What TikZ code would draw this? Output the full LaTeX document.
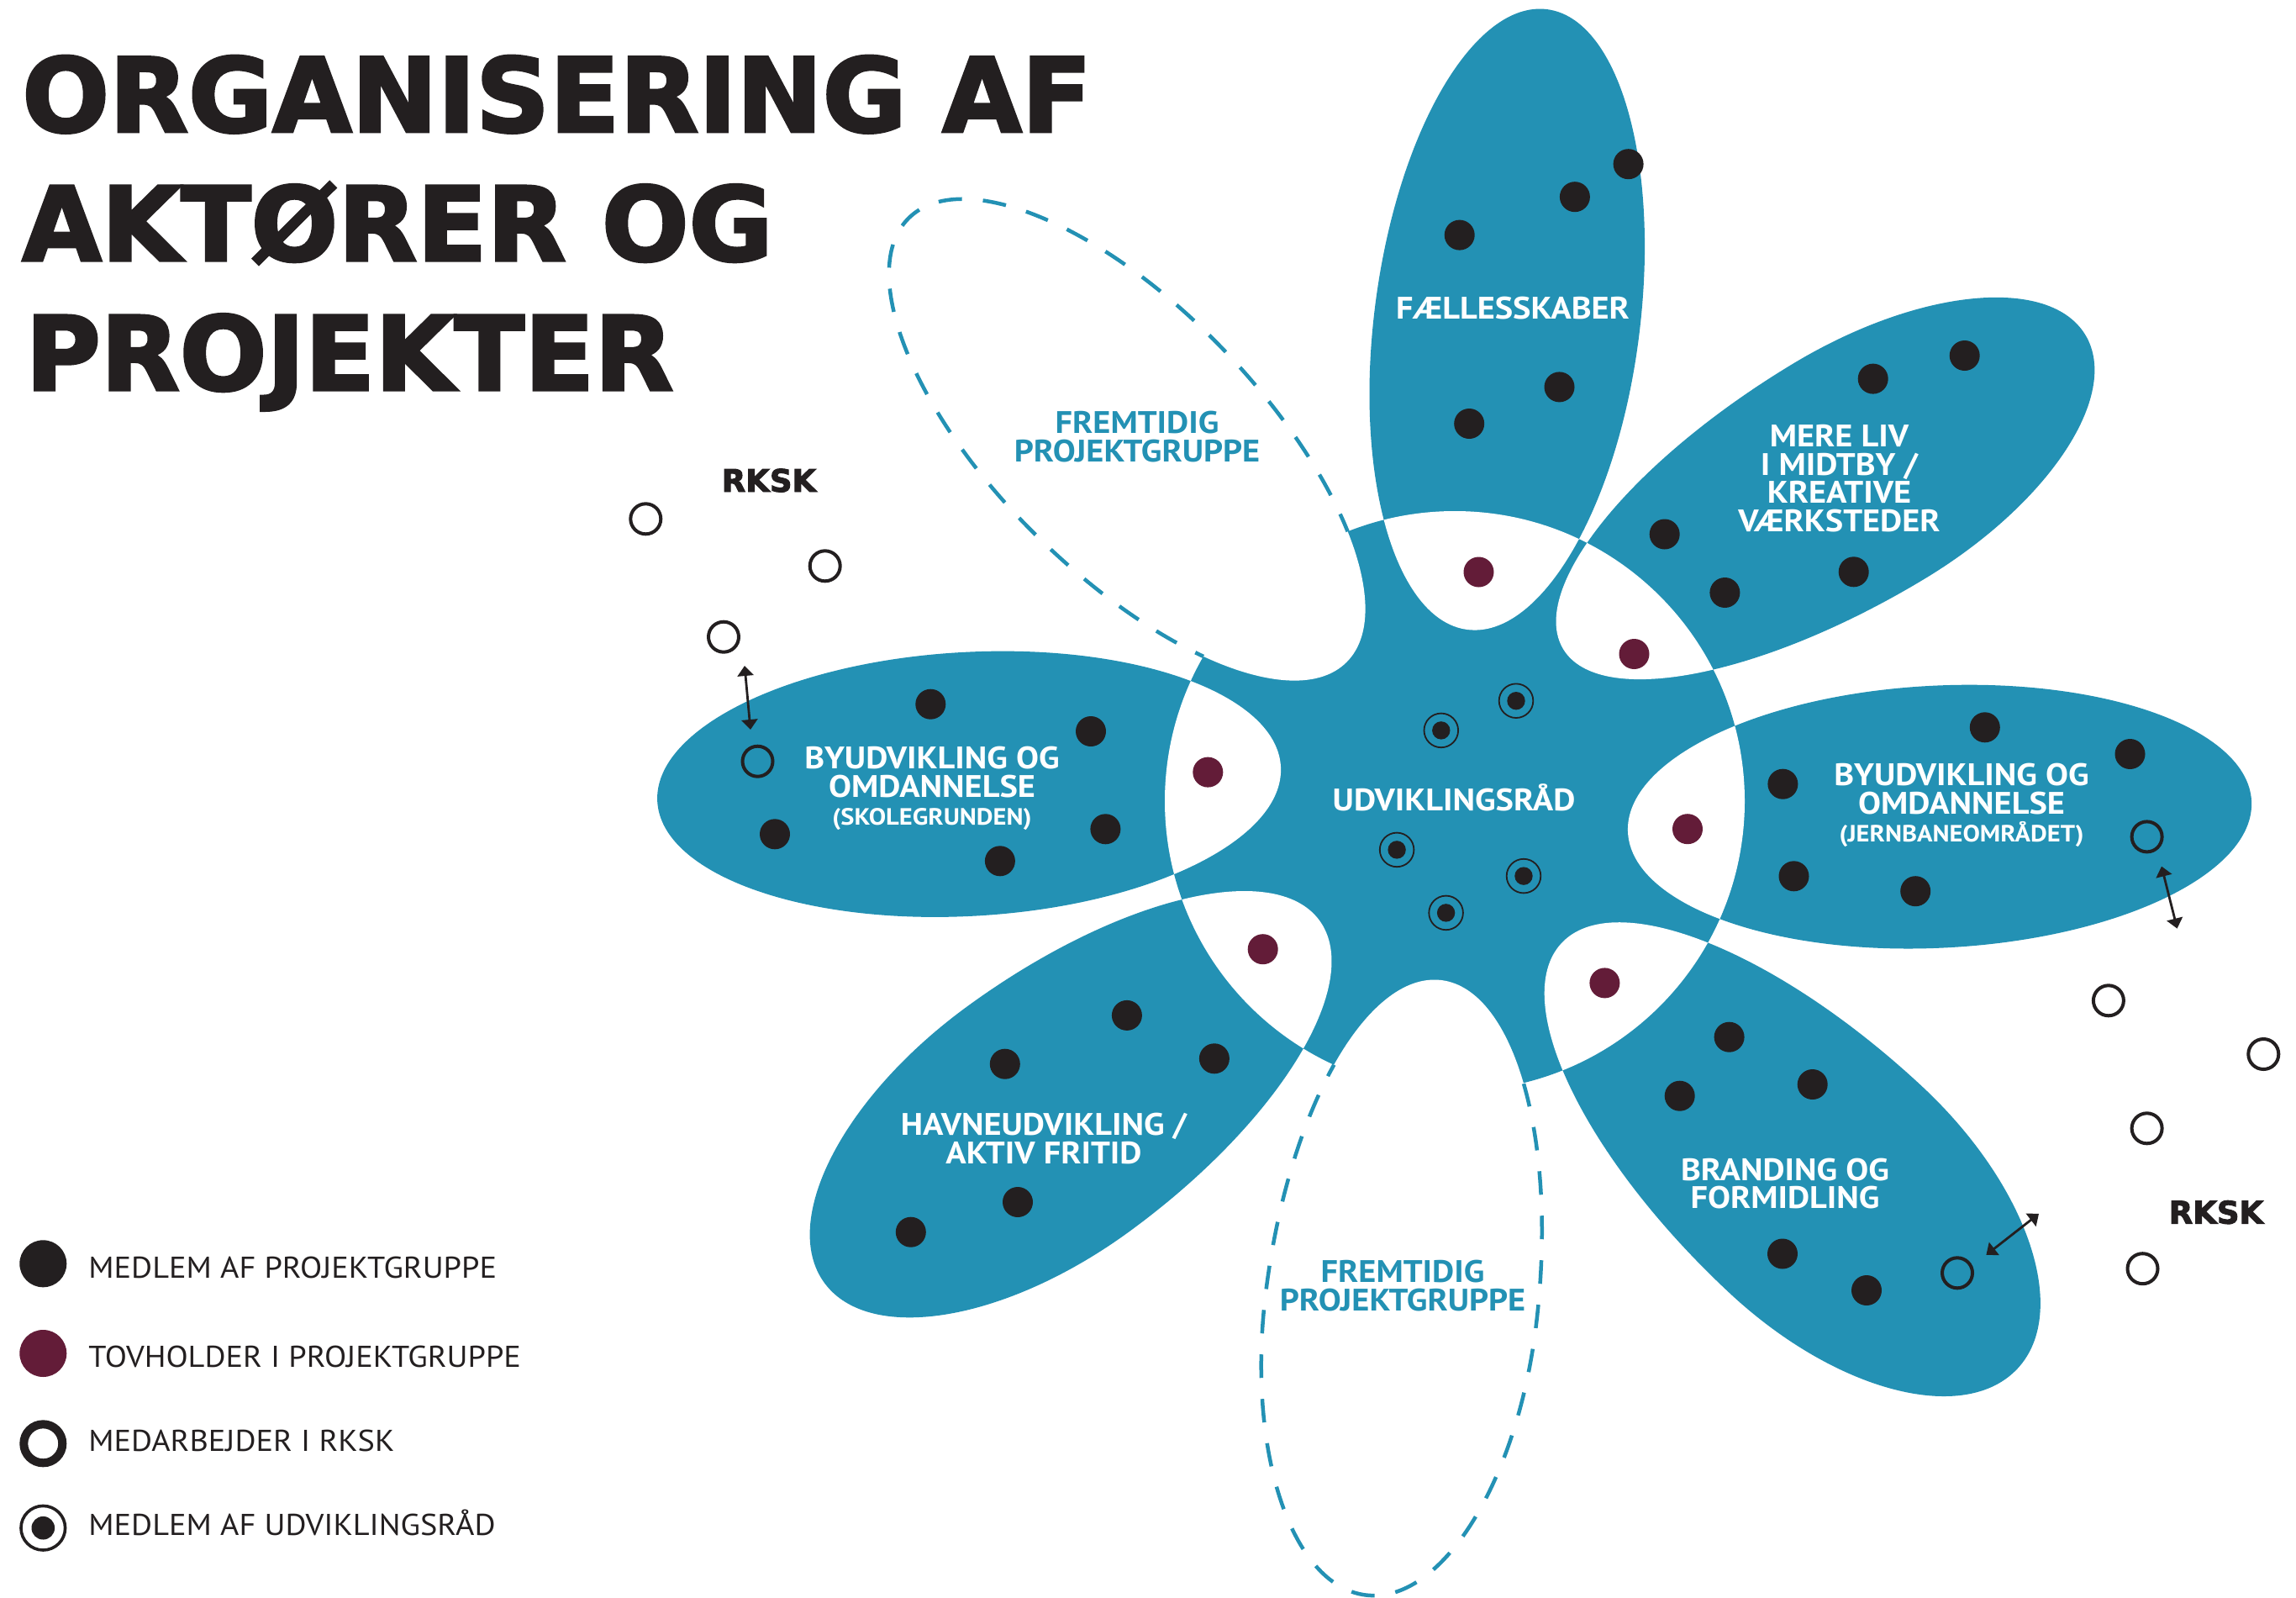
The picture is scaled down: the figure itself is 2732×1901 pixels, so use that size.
\documentclass[tikz,border=0pt]{standalone}
\usepackage{fontspec}
\setmainfont{PT Sans}
\newfontfamily\titlefont{DejaVu Sans Bold}[FakeBold=2.6]
\newfontfamily\lblfont{PT Sans}[FakeStretch=1.09]
\newfontfamily\legfont{PT Sans}[FakeStretch=1.07]
\usetikzlibrary{arrows.meta}
\definecolor{petalblue}{HTML}{2391B4}
\definecolor{leadred}{HTML}{631C38}
\definecolor{ink}{HTML}{231F20}
% egg shape: #1 length, #2 half width, #3 position of widest point (from inner tip)
\newcommand{\eggshape}[3]{(0,0) .. controls (0,{0.5523*#2}) and ({0.4477*#3},#2) .. (#3,#2) .. controls ({#3+0.5523*(#1-#3)},#2) and (#1,{0.5523*#2}) .. (#1,0) .. controls (#1,{-0.5523*#2}) and ({#3+0.5523*(#1-#3)},{-#2}) .. (#3,{-#2}) .. controls ({0.4477*#3},{-#2}) and (0,{-0.5523*#2}) .. (0,0) -- cycle}
\newcommand{\shapeA}{\eggshape{744}{158}{370}}
\newcommand{\shapeB}{\eggshape{725}{150}{410}}
\newcommand{\shapeC}{\eggshape{743}{156}{370}}
\newcommand{\shapeD}{\eggshape{742}{168}{430}}
\newcommand{\shapeE}{\eggshape{737}{162}{395}}
\newcommand{\shapeF}{\eggshape{730}{165}{400}}
\newcommand{\shapeG}{\eggshape{743}{157}{372}}
\newcommand{\shapeH}{\eggshape{742}{157}{380}}
\newcommand{\subfont}{\fontsize{14}{16.5}\selectfont}
\begin{document}
\begin{tikzpicture}[x=0.5pt, y=-0.5pt,
  petalA/.style={shift={(1746,749)}, rotate=82.67},
  petalB/.style={shift={(1860,772)}, rotate=31},
  petalC/.style={shift={(1937,990)}, rotate=2.85},
  petalD/.style={shift={(1858,1122)}, rotate=-43},
  petalE/.style={shift={(1715,1166)}, rotate=-97},
  petalF/.style={shift={(1570,1095)}, rotate=-143.8},
  petalG/.style={shift={(1524,912)}, rotate=183.2},
  petalH/.style={shift={(1602,788)}, rotate=134.56},
  dashline/.style={draw=petalblue, line width=2.25pt, dash pattern=on 14pt off 12.5pt},
  dot/.style={circle, fill=ink, inner sep=0pt, minimum size=18pt},
  leaddot/.style={circle, fill=leadred, inner sep=0pt, minimum size=18pt},
  rkskdot/.style={circle, draw=ink, line width=2pt, inner sep=0pt, minimum size=18pt},
  udvdot/.style={circle, draw=ink, line width=0.9pt, inner sep=0pt, minimum size=20.3pt,
     path picture={\fill[ink] (path picture bounding box.center) circle[radius=5.35pt];}},
  udvbig/.style={circle, draw=ink, line width=1.8pt, inner sep=0pt, minimum size=26.3pt,
     path picture={\fill[ink] (path picture bounding box.center) circle[radius=6.9pt];}},
  twoway/.style={{Triangle[width=9.5pt,length=6pt]}-{Triangle[width=9.5pt,length=6pt]}, line width=1.4pt, draw=ink},
  lbl/.style={text=white, font=\lblfont\bfseries\fontsize{18.5}{16.75}\selectfont, align=center, inner sep=0pt},
  futlbl/.style={lbl, text=petalblue},
  legtxt/.style={text=ink, font=\legfont\fontsize{17.9}{20}\selectfont, anchor=base west, inner sep=0pt},
  rksklbl/.style={text=ink, font=\titlefont\fontsize{18.5}{22}\selectfont, anchor=base, inner sep=0pt},
  titletxt/.style={anchor=base west, inner sep=0pt, text=ink, font=\titlefont\fontsize{61}{70}\selectfont}
]
\useasboundingbox (0,0) rectangle (2732,1901);
\fill[white] (0,0) rectangle (2732,1901);

% solid petals
\fill[petalblue, petalA] \shapeA;
\fill[petalblue, petalB] \shapeB;
\fill[petalblue, petalC] \shapeC;
\fill[petalblue, petalD] \shapeD;
\fill[petalblue, petalF] \shapeF;
\fill[petalblue, petalG] \shapeG;
% centre
\fill[petalblue] (1731,953) circle[radius=345];
% overlaps of the centre with the petals are white
\begin{scope}
  \clip (1731,953) circle[radius=345];
  \fill[white, petalA] \shapeA;
  \fill[white, petalB] \shapeB;
  \fill[white, petalC] \shapeC;
  \fill[white, petalD] \shapeD;
  \fill[white, petalF] \shapeF;
  \fill[white, petalG] \shapeG;
\end{scope}
\begin{scope}
  \clip (1731,953) circle[radius=348];
  \fill[white, petalE] \shapeE;
  \fill[white, petalH] \shapeH;
\end{scope}
% future groups: dashed outlines outside the centre
\begin{scope}[even odd rule]
  \clip (0,0) rectangle (2732,1901) (1731,953) circle[radius=345];
  \draw[dashline, petalE] \shapeE;
  \draw[dashline, petalH] \shapeH;
\end{scope}

% title
\node[titletxt] (title1) at (26,156.7) {ORGANISERING AF};
\node[titletxt] (title2) at (26,310) {AKTØRER OG};
\node[titletxt] (title3) at (30,464) {PROJEKTER};

% petal labels
\node[lbl, anchor=north] (tFaelles) at (1800,353) {FÆLLESSKABER};
\node[lbl, anchor=north] (tMere) at (2188.5,505) {MERE LIV\\I MIDTBY /\\KREATIVE\\VÆRKSTEDER};
\node[lbl, anchor=north] (tJern) at (2334,908) {BYUDVIKLING OG\\OMDANNELSE\\{\subfont (JERNBANEOMRÅDET)}};
\node[lbl, anchor=north] (tSkole) at (1109,888) {BYUDVIKLING OG\\OMDANNELSE\\{\subfont (SKOLEGRUNDEN)}};
\node[lbl, anchor=base] (tUdv) at (1730,964) {UDVIKLINGSRÅD};
\node[lbl, anchor=north] (tHavne) at (1242,1324) {HAVNEUDVIKLING /\\AKTIV FRITID};
\node[lbl, anchor=north] (tBrand) at (2124,1377.5) {BRANDING OG\\FORMIDLING};
\node[futlbl, anchor=north] (tFutA) at (1353,489) {FREMTIDIG\\PROJEKTGRUPPE};
\node[futlbl, anchor=north] (tFutB) at (1669,1499) {FREMTIDIG\\PROJEKTGRUPPE};

% members of project groups
\node[dot] (f1) at (1937.6,195.2) {};
\node[dot] (f2) at (1873.9,234.2) {};
\node[dot] (f3) at (1736.7,279.6) {};
\node[dot] (f4) at (1855.5,460.4) {};
\node[dot] (f5) at (1748.2,504) {};
\node[dot] (m1) at (2337.7,423) {};
\node[dot] (m2) at (2228.7,450.6) {};
\node[dot] (m3) at (1980.7,635.5) {};
\node[dot] (m4) at (2052.4,705) {};
\node[dot] (m5) at (2205.7,680.3) {};
\node[dot] (j1) at (2361.8,865.3) {};
\node[dot] (j2) at (2534.5,897) {};
\node[dot] (j3) at (2121.4,932.7) {};
\node[dot] (j4) at (2134.5,1042.3) {};
\node[dot] (j5) at (2279.2,1060.2) {};
\node[dot] (b1) at (2057.6,1233.7) {};
\node[dot] (b2) at (1998.7,1303.7) {};
\node[dot] (b3) at (2156.7,1290) {};
\node[dot] (b4) at (2121,1491.5) {};
\node[dot] (b5) at (2221,1535) {};
\node[dot] (h1) at (1340.9,1207.9) {};
\node[dot] (h2) at (1195.8,1265.7) {};
\node[dot] (h3) at (1444.9,1259.3) {};
\node[dot] (h4) at (1211,1430) {};
\node[dot] (h5) at (1083.8,1465.7) {};
\node[dot] (s1) at (1107.3,837.7) {};
\node[dot] (s2) at (1298,870) {};
\node[dot] (s3) at (922,992.3) {};
\node[dot] (s4) at (1189.9,1024.3) {};
\node[dot] (s5) at (1315.4,986.3) {};

% group leaders
\node[leaddot] (l1) at (1759.5,680.5) {};
\node[leaddot] (l2) at (1944.5,778) {};
\node[leaddot] (l3) at (2008,986.2) {};
\node[leaddot] (l4) at (1909.4,1169.4) {};
\node[leaddot] (l5) at (1502.7,1129.2) {};
\node[leaddot] (l6) at (1437.3,918.6) {};

% development council
\node[udvdot] (u1) at (1804,833.7) {};
\node[udvdot] (u2) at (1714.8,868.9) {};
\node[udvdot] (u3) at (1662.1,1010.9) {};
\node[udvdot] (u4) at (1813,1042.1) {};
\node[udvdot] (u5) at (1720.6,1085.9) {};

% RKSK staff
\node[rkskdot] (r1) at (768.3,617.3) {};
\node[rkskdot] (r2) at (981.7,673.3) {};
\node[rkskdot] (r3) at (861,757.7) {};
\node[rkskdot] (r4) at (901.5,905.7) {};
\node[rkskdot] (r5) at (2554.6,995.4) {};
\node[rkskdot] (r6) at (2508.9,1190.3) {};
\node[rkskdot] (r7) at (2693.3,1254) {};
\node[rkskdot] (r8) at (2554.6,1342.3) {};
\node[rkskdot] (r9) at (2549.5,1509.2) {};
\node[rkskdot] (r10) at (2329,1514.3) {};
\node[rksklbl] (rkskL) at (915,585) {RKSK};
\node[rksklbl] (rkskR) at (2637,1455.6) {RKSK};

% two-way arrows
\coordinate (aL1) at (886,792);
\coordinate (aL2) at (893,868);
\coordinate (aJ1) at (2572,1030.6);
\coordinate (aJ2) at (2590.6,1104.6);
\coordinate (aB1) at (2363.4,1492.8);
\coordinate (aB2) at (2426,1443.9);
\draw[twoway] (aL1) -- (aL2);
\draw[twoway] (aJ1) -- (aJ2);
\draw[twoway] (aB1) -- (aB2);

% legend
\node[dot, minimum size=28pt] (k1) at (51.3,1503.3) {};
\node[leaddot, minimum size=28pt] (k2) at (51.3,1610) {};
\node[rkskdot, minimum size=23pt, line width=5pt] (k3) at (51.3,1717.3) {};
\node[udvbig] (k4) at (51.3,1817.7) {};
\node[legtxt] (k1t) at (105,1520) {MEDLEM AF PROJEKTGRUPPE};
\node[legtxt] (k2t) at (105,1626.7) {TOVHOLDER I PROJEKTGRUPPE};
\node[legtxt] (k3t) at (105,1726.7) {MEDARBEJDER I RKSK};
\node[legtxt] (k4t) at (105,1826.7) {MEDLEM AF UDVIKLINGSRÅD};
\end{tikzpicture}
\end{document}
